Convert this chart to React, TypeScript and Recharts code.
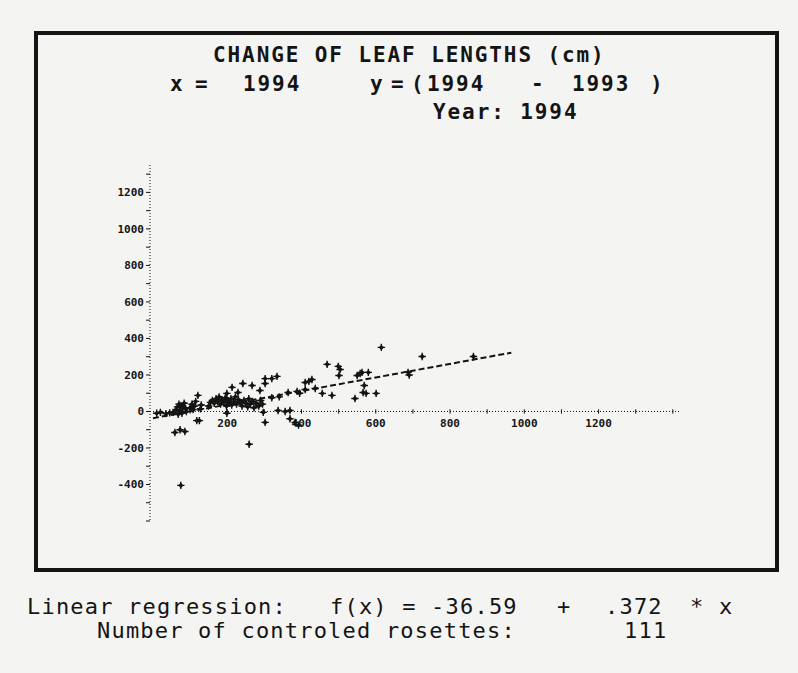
import { ScatterChart, Scatter, XAxis, YAxis, ReferenceLine, ReferenceDot } from "recharts";

// leaf length in 1994 (x) vs change 1994 - 1993 (y)
const nearZero = [
  [10, -10], [20, -5], [35, -12], [45, -8], [55, -5],
];
const lowCluster = [
  [62, 10], [66, 25], [70, 40], [72, 5], [75, 30], [78, -10], [80, 20], [84, 45], [88, 15], [90, 0], [68, -15],
  [100, 20], [105, 40], [108, 10], [112, 30], [115, 55], [121, 88], [118, -50], [125, -50], [128, 15], [130, 35],
];
const lowOutliers = [
  [59, -115], [73, -100], [86, -110], [75, -405],
];
const mainCluster = [
  [150, 30], [155, 50], [160, 60], [165, 45], [170, 70], [175, 55], [178, 80], [182, 40], [185, 65], [190, 50],
  [195, 75], [198, 30], [200, 60], [205, 45], [210, 70], [212, 35], [218, 55], [222, 80], [225, 40], [230, 65],
  [235, 50], [240, 30], [245, 60], [250, 45], [255, 25], [258, 70], [262, 40], [268, 55], [272, 20], [278, 45],
  [285, 30], [290, 60], [295, 40],
];
const upperScatter = [
  [199, 99], [213, 132], [229, 104], [242, 153], [267, 142], [288, 115], [302, 180], [302, 153], [320, 180], [334, 192],
];
const belowAxis = [
  [199, -10], [259, -180], [297, -5], [302, -60], [337, 5], [356, 0], [369, 5], [369, -40], [383, -60], [392, -75],
];
const midRange = [
  [320, 75], [340, 80], [364, 104], [388, 110], [395, 100], [410, 159], [428, 175], [420, 165], [410, 120], [437, 126],
  [456, 99], [482, 88], [469, 258], [499, 247], [504, 230], [501, 197], [544, 71], [550, 197], [558, 208], [563, 214],
  [580, 214], [569, 142], [566, 104], [574, 99], [601, 99], [615, 351], [725, 301], [687, 214], [690, 200], [863, 301],
];

// regression f(x) = -36.59 + .372 * x, ends
const regressionEnds = [
  { x: 0, y: -37 },
  { x: 965, y: 322 },
];

const xLabelTicks = [200, 400, 600, 800, 1000, 1200];
const xMinorTicks = [100, 200, 300, 400, 500, 600, 700, 800, 900, 1000, 1100, 1200, 1300, 1400];
const yTicks = [-600, -500, -400, -300, -200, -100, 0, 100, 200, 300, 400, 500, 600, 700, 800, 900, 1000, 1100, 1200, 1300];
const yLabelTicks = [-400, -200, 0, 200, 400, 600, 800, 1000, 1200];

const points = [...nearZero, ...lowCluster, ...lowOutliers, ...mainCluster, ...upperScatter, ...belowAxis, ...midRange].map(
  ([x, y]) => ({ x, y })
);

const INK = "#141414";
const MONO = "'DejaVu Sans Mono', 'Liberation Mono', monospace";

const Marker = (props: any) => {
  const { cx, cy } = props;
  if (cx == null || cy == null) return null;
  const r = 2.7;
  return (
    <g>
      <path d={`M${cx - r},${cy}L${cx},${cy - r}L${cx + r},${cy}L${cx},${cy + r}Z`} fill={INK} />
      <path d={`M${cx - r - 1},${cy}H${cx + r + 1}M${cx},${cy - r - 1}V${cy + r + 1}`} stroke={INK} strokeWidth={1.4} />
    </g>
  );
};

const NoDot = () => <g />;

const titleStyle = {
  position: "absolute" as const,
  fontFamily: MONO,
  fontWeight: "bold" as const,
  fontSize: 21,
  lineHeight: "20px",
  letterSpacing: 1.9,
  color: INK,
  whiteSpace: "pre" as const,
};

const footStyle = {
  ...titleStyle,
  fontWeight: "normal" as const,
  fontSize: 22,
  letterSpacing: 1.2,
};

const titleRow2: [string, number][] = [
  ["x", 170],
  ["=", 195],
  ["1994", 243],
  ["y", 370],
  ["=", 391],
  ["(", 411],
  ["1994", 427],
  ["-", 531],
  ["1993", 572],
  [")", 650],
];

const footRow1: [string, number][] = [
  ["Linear regression:", 27],
  ["f(x) = -36.59", 330],
  ["+", 557],
  [".372", 605],
  ["* x", 690],
];

const footRow2: [string, number][] = [
  ["Number of controled rosettes:", 97],
  ["111", 624],
];

const tickFont = { fontSize: 11, fontWeight: "bold", fill: INK, fontFamily: MONO };

export default function App() {
  return (
    <div style={{ position: "absolute", left: 0, top: 0, width: 798, height: 673, background: "#f4f4f2", overflow: "hidden" }}>
      <div
        style={{
          position: "absolute",
          left: 34,
          top: 31,
          width: 745,
          height: 541,
          border: `4px solid ${INK}`,
          boxSizing: "border-box",
        }}
      />
      <div style={{ ...titleStyle, left: 213, top: 45 }}>CHANGE OF LEAF LENGTHS (cm)</div>
      {titleRow2.map(([t, left], i) => (
        <div key={i} style={{ ...titleStyle, left, top: 74 }}>
          {t}
        </div>
      ))}
      <div style={{ ...titleStyle, left: 433, top: 102 }}>Year: 1994</div>

      {footRow1.map(([t, left], i) => (
        <div key={i} style={{ ...footStyle, left, top: 597 }}>
          {t}
        </div>
      ))}
      {footRow2.map(([t, left], i) => (
        <div key={i} style={{ ...footStyle, left, top: 621 }}>
          {t}
        </div>
      ))}

      <div style={{ position: "absolute", left: 0, top: 0 }}>
        <ScatterChart width={798} height={673} margin={{ top: 165, right: 117, bottom: 152, left: 110 }}>
          <XAxis type="number" dataKey="x" domain={[-8, 1422]} allowDataOverflow hide />
          <YAxis
            type="number"
            dataKey="y"
            domain={[-600, 1350]}
            allowDataOverflow
            ticks={yTicks}
            interval={0}
            width={40}
            tickSize={4}
            tickMargin={2}
            axisLine={{ stroke: INK, strokeDasharray: "1 2" }}
            tickLine={{ stroke: INK }}
            tick={tickFont}
            tickFormatter={(v: number) => (yLabelTicks.includes(v) ? String(v) : "")}
          />
          <ReferenceLine y={0} stroke={INK} strokeDasharray="1 2" />
          {xMinorTicks.map((t) => (
            <ReferenceLine
              key={`tk${t}`}
              segment={[
                { x: t, y: -12 },
                { x: t, y: 12 },
              ]}
              stroke={INK}
            />
          ))}
          {xLabelTicks.map((t) => (
            <ReferenceDot
              key={`lb${t}`}
              x={t}
              y={0}
              r={1}
              fill="none"
              stroke="none"
              label={{ value: String(t), position: "bottom", offset: 7, ...tickFont }}
            />
          ))}
          <Scatter
            data={regressionEnds}
            shape={<NoDot />}
            line={{ stroke: INK, strokeWidth: 2, strokeDasharray: "6 3" }}
            lineType="joint"
            isAnimationActive={false}
          />
          <Scatter data={points} shape={<Marker />} isAnimationActive={false} />
        </ScatterChart>
      </div>
    </div>
  );
}
